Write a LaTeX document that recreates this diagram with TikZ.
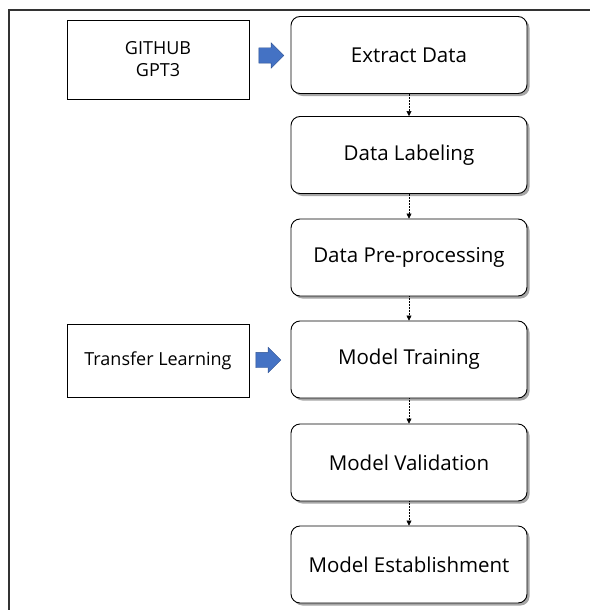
\documentclass[tikz,border=0pt]{standalone}
\usepackage{fontspec}
\setmainfont{Open Sans}
\usetikzlibrary{shapes.arrows,shadows,arrows.meta}
\begin{document}
\begin{tikzpicture}[x=1pt,y=-1pt,
  stepbox/.style={draw=black,line width=0.9pt,rounded corners=9pt,fill=white,minimum width=236pt,minimum height=77pt,inner sep=0pt,font=\fontsize{20.5}{24}\selectfont,
    general shadow={fill=black!35,shadow xshift=2.5pt,shadow yshift=-2.5pt}},
  srcbox/.style={draw=black,line width=0.7pt,fill=white,minimum width=182pt,inner sep=0pt,font=\fontsize{18}{22}\selectfont,align=center},
  blockarrow/.style={single arrow,draw={rgb,255:red,47;green,82;blue,143},fill={rgb,255:red,68;green,114;blue,196},minimum height=25pt,inner sep=7.5pt,single arrow head extend=5pt,line width=0.4pt},
  flow/.style={densely dotted,line width=0.5pt,-{Triangle[length=5pt,width=5pt]}}]
\useasboundingbox (0,0) rectangle (589,610);
\draw[line width=2pt,black!80] (9,640) -- (9,10.5) -- (620,10.5);
\node[srcbox,minimum height=79pt] (github) at (158,59.5) {GITHUB\\GPT3};
\node[srcbox,minimum height=73pt] (transfer) at (158,360.5) {Transfer Learning};
\node[stepbox] (s1) at (409,55) {Extract Data};
\node[stepbox] (s2) at (409,155) {Data Labeling};
\node[stepbox] (s3) at (409,257.5) {Data Pre-processing};
\node[stepbox] (s4) at (409,359.5) {Model Training};
\node[stepbox] (s5) at (409,462.5) {Model Validation};
\node[stepbox] (s6) at (409,564.5) {Model Establishment};
\node[blockarrow,inner sep=0pt,minimum width=25pt,text height=15pt,text width=0pt] (a1) at (267.5,55.5) {};
\node[blockarrow,inner sep=0pt,minimum width=25pt,text height=15pt,text width=0pt] (a2) at (264.5,360) {};
\foreach \i/\j in {s1/s2,s2/s3,s3/s4,s4/s5,s5/s6}
  \draw[flow] (\i.south) -- (\j.north);
\end{tikzpicture}
\end{document}
